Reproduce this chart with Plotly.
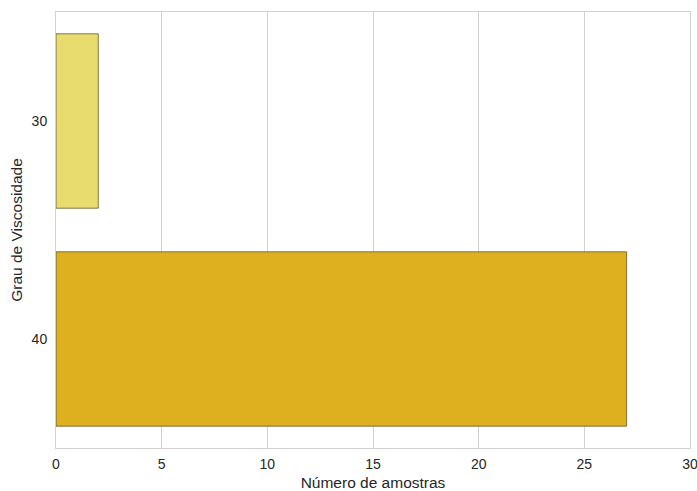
import plotly.graph_objects as go

categories = ["30", "40"]
values = [2, 27]
colors = ["#E8DC6E", "#DEB020"]
x_ticks = [0, 5, 10, 15, 20, 25, 30]

fig = go.Figure()
fig.add_trace(go.Bar(
    y=categories, x=values, orientation="h",
    marker=dict(color=colors, line=dict(color="rgba(90,80,40,0.75)", width=1)),
    width=0.8, hoverinfo="skip",
))

tick_font = dict(family="Liberation Sans, Arial, sans-serif", size=14, color="#262626")
title_font = dict(family="Liberation Sans, Arial, sans-serif", size=15.5, color="#262626")
fig.update_layout(
    width=697, height=491,
    margin=dict(l=56, r=7, t=12, b=43, autoexpand=False),
    plot_bgcolor="white", paper_bgcolor="white",
    font=tick_font, showlegend=False,
    xaxis=dict(
        range=[0, 30], tickvals=x_ticks, ticktext=[str(v) for v in x_ticks],
        showgrid=True, gridcolor="#d0d0d0", gridwidth=1,
        showline=True, linecolor="#d0d0d0", linewidth=1, mirror=True,
        zeroline=False, ticks="", automargin=False,
        ticklabeloverflow="allow", ticklabelstandoff=3,
        title=dict(text="Número de amostras", font=title_font, standoff=6),
        tickfont=tick_font,
    ),
    yaxis=dict(
        type="category", categoryorder="array", categoryarray=categories,
        range=[1.5, -0.5],
        showgrid=False,
        showline=True, linecolor="#d0d0d0", linewidth=1, mirror=True,
        zeroline=False, ticks="", automargin=False,
        ticklabelstandoff=5,
        title=dict(text="Grau de Viscosidade", font=title_font, standoff=5),
        tickfont=tick_font,
    ),
)
fig.write_html(
    "out.html",
    config={"displayModeBar": False},
    post_script="document.body.style.margin='0';document.body.style.overflow='hidden';",
)
